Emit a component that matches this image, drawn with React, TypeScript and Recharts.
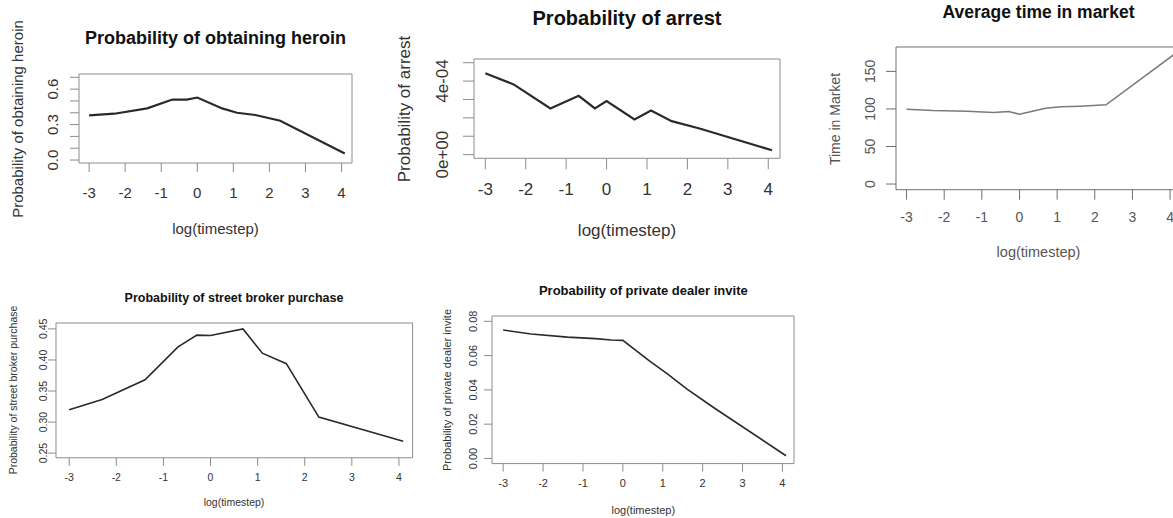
import React from 'react';
import { LineChart, Line, XAxis, YAxis, ReferenceArea } from 'recharts';

// log(timestep) positions shared by every panel
const logTimestep = [-3, -2.3, -1.39, -0.69, -0.29, 0, 0.69, 1.1, 1.61, 2.3, 4.09];
const xTicks = [-3, -2, -1, 0, 1, 2, 3, 4];

const heroinProb = [0.378, 0.392, 0.437, 0.512, 0.512, 0.529, 0.437, 0.4, 0.381, 0.333, 0.056];
const arrestProb = [4.42e-4, 3.82e-4, 2.51e-4, 3.2e-4, 2.51e-4, 2.91e-4, 1.91e-4, 2.4e-4, 1.82e-4, 1.42e-4, 0.24e-4];
const timeInMarket = [99.7, 98, 97, 95.3, 96.6, 93, 101, 102.9, 103.7, 105.5, 172];
const brokerProb = [0.32, 0.3365, 0.368, 0.421, 0.44, 0.4394, 0.45, 0.411, 0.394, 0.308, 0.269];
const dealerProb = [0.0749, 0.0726, 0.0708, 0.0699, 0.0691, 0.0689, 0.0565, 0.0496, 0.0404, 0.0293, 0.0016];

const heroinTicks = [0, 0.1, 0.2, 0.3, 0.4, 0.5, 0.6, 0.7];
const heroinLabels = [0, 0.3, 0.6];
const arrestTicks = [0, 1e-4, 2e-4, 3e-4, 4e-4, 5e-4];
const arrestLabels = [0, 4e-4];
const timeTicks = [0, 50, 100, 150];
const brokerTicks = [0.25, 0.3, 0.35, 0.4, 0.45];
const dealerTicks = [0, 0.02, 0.04, 0.06, 0.08];

const FONT = '"Liberation Sans", Arial, Helvetica, sans-serif';
const X_DOMAIN: [number, number] = [-3.28, 4.29];
const Y_AXIS_W = 50;
const X_AXIS_H = 45;
const PAD = 20;

const toRows = (ys: number[]) => logTimestep.map((x, i) => ({ x, y: ys[i] }));

const sci = (v: number) => v.toExponential(0).replace(/e([+-])(\d)$/, 'e$10$2');

type PanelProps = {
  values: number[];
  box: [number, number, number, number];
  yDomain: [number, number];
  yTicks: number[];
  yLabels?: number[];
  fmt: (v: number) => string;
  title: string;
  titleSize: number;
  titleY: number;
  xLabelSize: number;
  xLabelY: number;
  yLabel: string;
  yLabelSize: number;
  yLabelX: number;
  tickSize: number;
  xTickOff: number;
  yTickOff: number;
  tickLen: number;
  lineColor?: string;
  lineWidth?: number;
  boxColor?: string;
  textColor?: string;
};

const Panel = (p: PanelProps) => {
  const [x0, y0, x1, y1] = p.box;
  const lineColor = p.lineColor ?? '#2a2a2a';
  const boxColor = p.boxColor ?? '#8c8c8c';
  const textColor = p.textColor ?? '#333';
  const w = x1 - x0 + Y_AXIS_W + PAD;
  const h = y1 - y0 + X_AXIS_H + PAD;
  const cx = (x0 + x1) / 2;
  const cy = (y0 + y1) / 2;
  const labels = p.yLabels ?? p.yTicks;

  const XTick = (props: any) => (
    <text x={props.x} y={props.y} textAnchor="middle" dominantBaseline="central"
      fontFamily={FONT} fontSize={p.tickSize} fill={textColor}>
      {props.payload.value}
    </text>
  );
  const YTick = (props: any) => {
    const v = props.payload.value;
    if (!labels.some(l => Math.abs(l - v) < 1e-12)) return <g />;
    return (
      <text x={props.x} y={props.y} textAnchor="middle" dominantBaseline="central"
        transform={`rotate(-90 ${props.x} ${props.y})`}
        fontFamily={FONT} fontSize={p.tickSize} fill={textColor}>
        {p.fmt(v)}
      </text>
    );
  };

  const txt: React.CSSProperties = {
    position: 'absolute', fontFamily: FONT, color: textColor, whiteSpace: 'nowrap', lineHeight: 1,
  };

  return (
    <>
      <div style={{ ...txt, left: cx, top: p.titleY, fontSize: p.titleSize, fontWeight: 'bold', color: '#111', transform: 'translate(-50%, -50%)' }}>
        {p.title}
      </div>
      <div style={{ ...txt, left: cx, top: p.xLabelY, fontSize: p.xLabelSize, transform: 'translate(-50%, -50%)' }}>
        log(timestep)
      </div>
      <div style={{ ...txt, left: p.yLabelX, top: cy, fontSize: p.yLabelSize, transform: 'translate(-50%, -50%) rotate(-90deg)' }}>
        {p.yLabel}
      </div>
      <div style={{ position: 'absolute', left: x0 - Y_AXIS_W, top: y0 - PAD }}>
        <LineChart width={w} height={h} data={toRows(p.values)}
          margin={{ top: PAD, right: PAD, left: 0, bottom: 0 }}>
          <XAxis type="number" dataKey="x" domain={X_DOMAIN} allowDataOverflow ticks={xTicks}
            interval={0} height={X_AXIS_H} axisLine={false} tickSize={p.tickLen}
            tickMargin={p.xTickOff - p.tickLen} tickLine={{ stroke: boxColor }} tick={XTick} />
          <YAxis type="number" domain={p.yDomain} allowDataOverflow ticks={p.yTicks}
            interval={0} width={Y_AXIS_W} axisLine={false} tickSize={p.tickLen}
            tickMargin={p.yTickOff - p.tickLen} tickLine={{ stroke: boxColor }} tick={YTick} />
          <ReferenceArea x1={X_DOMAIN[0]} x2={X_DOMAIN[1]} y1={p.yDomain[0]} y2={p.yDomain[1]}
            fill="none" fillOpacity={0} stroke={boxColor} strokeWidth={1} ifOverflow="visible" />
          <Line type="linear" dataKey="y" stroke={lineColor} strokeWidth={p.lineWidth ?? 2.2}
            dot={false} isAnimationActive={false} />
        </LineChart>
      </div>
    </>
  );
};

export default function App() {
  return (
    <div style={{ position: 'absolute', left: 0, top: 0, width: 1173, height: 518, background: '#fff', overflow: 'hidden' }}>
      <Panel values={heroinProb} box={[79, 74, 352, 163]} yDomain={[-0.025, 0.728]}
        yTicks={heroinTicks} yLabels={heroinLabels} fmt={v => v.toFixed(1)}
        title="Probability of obtaining heroin" titleSize={18} titleY={38}
        xLabelSize={15} xLabelY={228} yLabel="Probability of obtaining heroin" yLabelSize={15} yLabelX={17}
        tickSize={15} xTickOff={29.7} yTickOff={26} tickLen={9} />
      <Panel values={arrestProb} box={[474, 59, 780, 158.3]} yDomain={[-0.2e-4, 5.2e-4]}
        yTicks={arrestTicks} yLabels={arrestLabels} fmt={sci}
        title="Probability of arrest" titleSize={20} titleY={18}
        xLabelSize={17} xLabelY={230} yLabel="Probability of arrest" yLabelSize={17} yLabelX={404}
        tickSize={17} xTickOff={31.7} yTickOff={31} tickLen={11} />
      <Panel values={timeInMarket} box={[896, 47.3, 1181, 190]} yDomain={[-7.5, 182.5]}
        yTicks={timeTicks} fmt={v => String(v)}
        title="Average time in market" titleSize={17.5} titleY={13}
        xLabelSize={14.5} xLabelY={252} yLabel="Time in Market" yLabelSize={14} yLabelX={835}
        tickSize={14} xTickOff={27} yTickOff={26} tickLen={10}
        lineColor="#7a7a7a" lineWidth={1.6} boxColor="#6e6e6e" textColor="#555" />
      <Panel values={brokerProb} box={[55.7, 322.7, 412.3, 457.5]} yDomain={[0.2425, 0.4595]}
        yTicks={brokerTicks} fmt={v => v.toFixed(2)}
        title="Probability of street broker purchase" titleSize={12.5} titleY={298}
        xLabelSize={10.5} xLabelY={502} yLabel="Probability of street broker purchase" yLabelSize={10.5} yLabelX={12.7}
        tickSize={10.5} xTickOff={19.5} yTickOff={12.7} tickLen={8} lineWidth={1.6} />
      <Panel values={dealerProb} box={[492.3, 315.7, 794.3, 463.3]} yDomain={[-0.003, 0.0831]}
        yTicks={dealerTicks} fmt={v => v.toFixed(2)}
        title="Probability of private dealer invite" titleSize={13} titleY={290}
        xLabelSize={11} xLabelY={510} yLabel="Probability of private dealer invite" yLabelSize={11} yLabelX={447}
        tickSize={11} xTickOff={19.7} yTickOff={19.3} tickLen={8} lineWidth={1.6} />
    </div>
  );
}
